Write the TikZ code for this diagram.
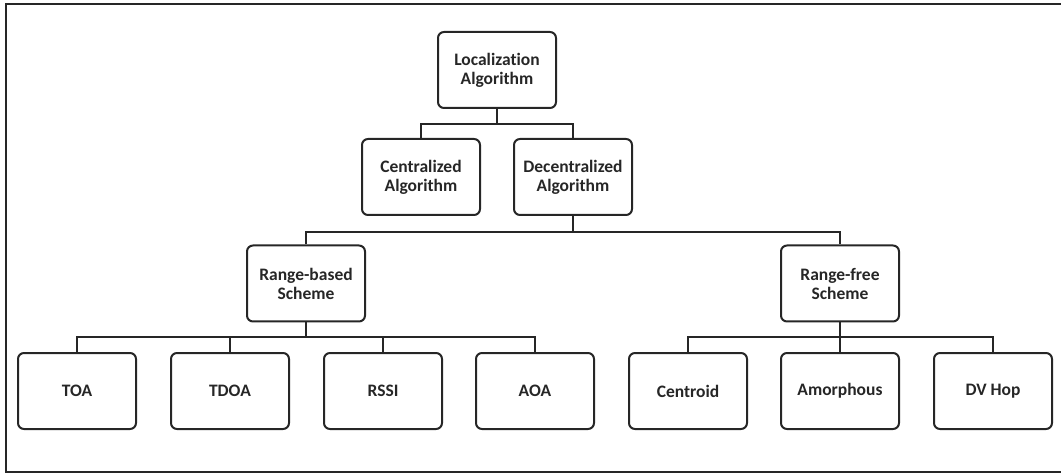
\documentclass[tikz,border=0pt]{standalone}
\usepackage{fontspec}
\setmainfont{Carlito}[Ligatures=NoCommon]
\usepackage{tikz}

\begin{document}
\begin{tikzpicture}[x=1pt,y=-1pt,
    box/.style={draw=black!85,line width=2pt,rounded corners=6pt,minimum width=118pt,minimum height=76pt,align=center,inner sep=2pt,font=\fontsize{17.5}{19}\selectfont\bfseries,text=black!85},
    link/.style={draw=black!85,line width=2pt}]
        \useasboundingbox (0,0) rectangle (1061,473);
        \draw[line width=1.8pt,black!85] (1061,4) -- (6,4) -- (6,472) -- (1061,472);
        \node[box] (loc) at (497,70) {Localization\\Algorithm};
        \node[box] (cen) at (421,177) {Centralized\\Algorithm};
        \node[box] (dec) at (573,177) {Decentralized\\Algorithm};
        \node[box] (rb) at (306,283.5) {Range-based\\Scheme};
        \node[box] (rf) at (840,283.5) {Range-free\\Scheme};
        \node[box] (toa) at (77,391) {TOA};
        \node[box] (tdoa) at (230,391) {TDOA};
        \node[box] (rssi) at (383,391) {RSSI};
        \node[box] (aoa) at (535,391) {AOA};
        \node[box] (cent) at (688,391) {Centroid};
        \node[box] (amor) at (840,391) {Amorphous};
        \node[box] (dvh) at (993,391) {DV Hop};
        % tree links
        \draw[link] (loc.south) -- ++(0,15) coordinate (j1);
        \draw[link] (cen.north) |- (j1) -| (dec.north);
        \draw[link] (dec.south) -- ++(0,16) coordinate (j2);
        \draw[link] (rb.north) |- (j2) -| (rf.north);
        \draw[link] (rb.south) -- ++(0,14.5) coordinate (j3);
        \draw[link] (toa.north) |- (j3) -| (aoa.north);
        \draw[link] (tdoa.north) -- (tdoa.north |- j3);
        \draw[link] (rssi.north) -- (rssi.north |- j3);
        \draw[link] (rf.south) -- ++(0,14.5) coordinate (j4);
        \draw[link] (cent.north) |- (j4) -| (dvh.north);
        \draw[link] (amor.north) -- (j4);
\end{tikzpicture}
\end{document}
